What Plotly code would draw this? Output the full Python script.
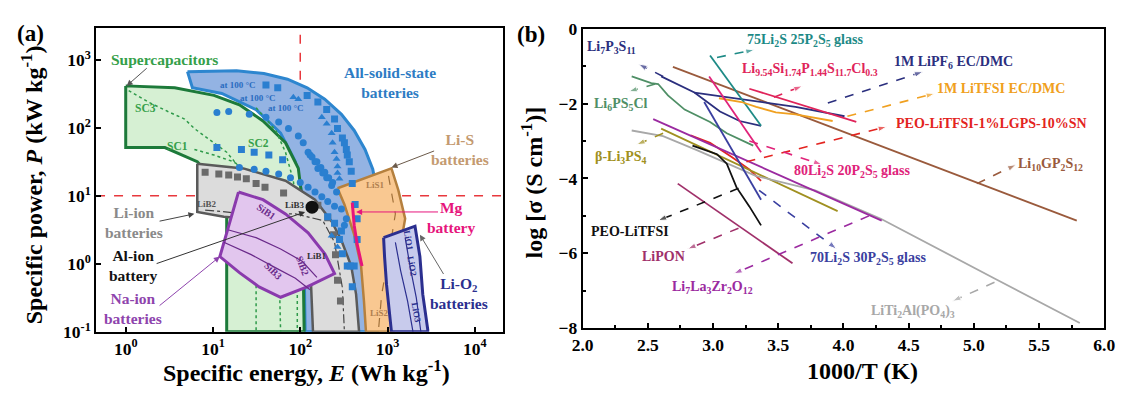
import numpy as np
import plotly.graph_objects as go

FONT = "Liberation Serif"
W, H = 1131, 394

# ---------------- panel (a): Ragone plot (outlines in log10 units) ----------------
guide_E = 100.0      # vertical dashed guide, Wh/kg
guide_P = 10.0       # horizontal dashed guide, kW/kg

assb_logE = [0.708, 1.270, 1.584, 1.854, 2.079, 2.281, 2.472, 2.618, 2.742, 2.831, 2.876, 2.899, 2.888,
             2.056, 2.034, 1.944, 1.775, 1.494, 1.101, 0.764]
assb_logP = [2.827, 2.841, 2.799, 2.716, 2.590, 2.423, 2.199, 1.962, 1.683, 1.391, 1.084, 0.665, -1.0,
             -1.0, 0.944, 1.502, 1.921, 2.269, 2.506, 2.590]

sc_logE = [0.0, 0.562, 1.011, 1.303, 1.573, 1.831, 1.978, 2.022, 2.045, 1.157, 1.157, 1.067, 0.820, 0.449, 0.0]
sc_logP = [2.618, 2.590, 2.478, 2.339, 2.102, 1.781, 1.404, 0.944, -1.0, -1.0, 0.735, 1.153, 1.502, 1.711, 1.711]

sc_sub1_logE = [0.034, 0.258, 0.483, 0.674, 0.787, 0.966, 1.157, 1.382, 1.494, 1.494]
sc_sub1_logP = [2.548, 2.381, 2.241, 2.130, 1.990, 1.823, 1.642, 1.293, 0.805, -1.0]
sc_sub2_logE = [0.787, 1.011, 1.236, 1.551, 1.742, 1.775]
sc_sub2_logP = [1.683, 1.600, 1.502, 1.223, 0.735, -1.0]
sc_sub3_logE = [1.494, 1.719, 1.831, 1.921, 1.966, 1.966]
sc_sub3_logP = [2.297, 1.962, 1.642, 1.223, 0.665, -1.0]

lib_logE = [0.820, 1.348, 1.831, 2.169, 2.360, 2.472, 2.584, 2.640, 2.674,
            2.146, 2.124, 2.034, 1.719, 1.382, 1.124, 0.820]
lib_logP = [1.474, 1.404, 1.223, 0.944, 0.623, 0.344, -0.032, -0.450, -1.0,
            -1.0, -0.311, 0.177, 0.526, 0.665, 0.693, 0.763]
lib_sub_logE = [0.910, 1.382, 1.944, 2.258, 2.393, 2.483, 2.506]
lib_sub_logP = [0.791, 0.735, 0.735, 0.637, 0.317, -0.353, -1.0]

sib_logE = [1.292, 1.573, 1.831, 2.090, 2.281, 2.393, 2.079, 1.775, 1.528, 1.303, 1.079]
sib_logP = [1.056, 0.944, 0.735, 0.456, 0.149, -0.144, -0.339, -0.492, -0.339, -0.130, 0.107]
sib_sub1_logE = [1.180, 1.494, 1.775, 2.022, 2.191]
sib_sub1_logP = [0.498, 0.386, 0.219, 0.038, -0.199]
sib_sub2_logE = [1.124, 1.438, 1.719, 1.944, 2.112]
sib_sub2_logP = [0.317, 0.135, -0.060, -0.213, -0.381]

lis_logE = [2.427, 3.045, 3.124, 3.202, 3.146, 3.090, 3.067, 2.753, 2.730, 2.697, 2.618, 2.506]
lis_logP = [1.112, 1.404, 1.084, 0.665, 0.247, -0.311, -1.0, -1.0, -0.548, -0.032, 0.428, 0.874]
lis_sub_logE = [3.011, 3.090, 3.011, 2.933, 2.899]
lis_sub_logP = [1.293, 0.735, 0.107, -0.450, -0.939]

lio_logE = [2.955, 3.315, 3.371, 3.404, 3.461, 3.461, 3.045, 2.989, 2.966]
lio_logP = [0.386, 0.554, 0.107, -0.450, -0.967, -1.0, -1.0, -0.311, 0.107]
lio_sub1_logE = [3.090, 3.150, 3.230, 3.292]
lio_sub1_logP = [0.317, -0.100, -0.550, -1.0]
lio_sub2_logE = [3.202, 3.260, 3.330, 3.382]
lio_sub2_logP = [0.386, -0.050, -0.500, -1.0]

mg_logE = [2.596, 2.618, 2.652, 2.708]
mg_logP = [0.902, 0.568, 0.289, -0.032]

lib_pts_logE = [0.910, 1.067, 1.180, 1.281, 1.382, 1.494, 1.596, 1.809, 2.202, 2.315, 2.382, 2.404, 2.427, 2.461]
lib_pts_logP = [1.349, 1.321, 1.307, 1.279, 1.251, 1.181, 1.126, 1.042, 0.861, 0.679, 0.428, 0.135, -0.241, -0.548]
alion_logE = [2.135]
alion_logP = [0.833]

assb_circ_logE = [1.045, 1.180, 1.416, 1.607, 1.753, 1.865, 1.978, 2.034, 2.112, 2.169, 2.202, 2.258, 2.303, 2.360, 2.416,
                  1.303, 1.472, 1.607, 1.753, 1.888, 2.000, 2.090, 2.169, 2.247, 2.315, 2.393,
                  2.090, 2.135, 2.191, 2.236, 2.281, 2.326, 2.371, 2.472, 2.528, 2.506]
assb_circ_logP = [2.227, 2.241, 2.199, 2.158, 2.088, 1.990, 1.879, 1.781, 1.600, 1.502, 1.404, 1.335, 1.265, 1.153, 1.056,
                  1.418, 1.391, 1.363, 1.321, 1.265, 1.195, 1.126, 1.056, 0.986, 0.916, 0.847,
                  1.642, 1.572, 1.502, 1.418, 1.349, 1.265, 1.195, 0.805, 0.665, 0.568]
assb_sq_logE = [1.607, 1.742, 2.079, 2.202, 2.303, 2.393, 2.427, 2.483, 2.506, 2.528, 2.539, 2.562, 2.584, 2.596,
                1.045, 1.326, 1.472, 1.640, 1.798,
                2.315, 2.393, 2.472, 2.449, 2.483, 2.539, 2.596, 2.629, 2.652, 2.652, 2.618, 2.573]
assb_sq_logP = [2.632, 2.590, 2.478, 2.381, 2.269, 2.130, 1.990, 1.851, 1.781, 1.683, 1.600, 1.502, 1.363, 1.181,
                1.711, 1.683, 1.642, 1.600, 1.530,
                0.693, 0.596, 0.484, 0.358, 0.149, -0.032, -0.339, 0.874, 0.665, 0.358, -0.032, -0.032]
assb_tri_logE = [1.921, 1.978, 2.247, 2.303, 2.360, 2.371, 2.393, 2.416, 2.427, 2.427, 2.449, 2.360, 2.427]
assb_tri_logP = [2.450, 2.423, 2.158, 2.060, 1.921, 1.781, 1.642, 1.544, 1.432, 1.335, 1.251, 0.414, 0.247]

# ---------------- panel (b): ionic conductivity vs 1000/T ----------------
curves = {
    "li10gps":  ([2.692, 5.789], [-1.015, -5.127], "#9a5a3c"),
    "li7p3s11": ([2.602, 2.857, 3.053, 3.203, 3.368], [-1.269, -1.701, -2.208, -2.462, -2.589], "#2b2f7e"),
    "lipf6":    ([2.857, 3.256, 3.632, 4.008], [-1.701, -1.904, -2.081, -2.335], "#2b2f7e"),
    "glass75":  ([2.977, 3.368], [-0.711, -2.589], "#1d8a86"),
    "lisipscl": ([3.278, 4.098], [-1.599, -2.487], "#e0245a"),
    "litfsi":   ([3.045, 3.218, 3.331, 3.481, 3.632, 3.782, 3.917],
                 [-1.853, -1.954, -2.081, -2.234, -2.284, -2.386, -2.462], "#f0a020"),
    "peo_lgps": ([2.827, 2.977, 3.143, 3.278, 3.368], [-2.843, -3.046, -3.426, -3.756, -4.061], "#e32420"),
    "li6ps5cl": ([2.376, 2.526, 2.579, 2.654, 2.782, 2.977, 3.105, 3.308],
                 [-1.269, -1.447, -1.472, -1.777, -2.157, -2.487, -2.792, -3.122], "#4f8f66"),
    "b_li3ps4": ([2.602, 3.955], [-2.665, -4.873], "#a09020"),
    "latp":     ([2.376, 2.617, 2.880, 3.331, 3.782, 4.286, 5.158, 5.812],
                 [-2.716, -2.868, -3.249, -3.934, -4.315, -5.076, -6.675, -7.868], "#a8a8a8"),
    "llzo":     ([2.541, 4.293], [-2.411, -5.127], "#9b2aa0"),
    "glass80":  ([2.970, 3.368], [-1.269, -3.299], "#e0237a"),
    "glass70":  ([2.932, 3.368], [-1.954, -4.569], "#3a3fa0"),
    "peo":      ([2.842, 3.030, 3.105, 3.180, 3.278, 3.368], [-3.122, -3.350, -3.604, -4.239, -4.746, -5.254], "#111111"),
    "lipon":    ([2.729, 3.609], [-4.137, -6.269], "#a0306a"),
}

# leader arrows: (start x, start y, head x, head y, curve key)
leaders = [
    (5.023, -4.137, 5.323, -3.629, "li10gps"),
    (2.617, -1.269, 2.429, -0.939, "li7p3s11"),
    (3.880, -1.980, 4.609, -1.142, "lipf6"),
    (3.030, -0.761, 3.316, -0.558, "glass75"),
    (3.466, -1.827, 3.684, -1.523, "lisipscl"),
    (4.030, -2.335, 4.699, -1.726, "litfsi"),
    (3.256, -3.553, 4.331, -2.614, "peo_lgps"),
    (2.556, -1.472, 2.353, -1.675, "li6ps5cl"),
    (2.617, -2.792, 2.414, -3.096, "b_li3ps4"),
    (5.158, -6.777, 4.835, -7.284, "latp"),
    (4.195, -5.000, 3.158, -6.548, "llzo"),
    (3.278, -2.995, 3.835, -3.629, "glass80"),
    (3.353, -4.315, 3.947, -5.888, "glass70"),
    (3.195, -4.264, 2.579, -5.127, "peo"),
    (3.195, -5.330, 2.805, -5.888, "lipon"),
]

labels_b = [
    ("Li<sub>7</sub>P<sub>3</sub>S<sub>11</sub>", 2.218, -0.508, "li7p3s11"),
    ("75Li<sub>2</sub>S 25P<sub>2</sub>S<sub>5</sub> glass", 3.707, -0.305, "glass75"),
    ("1M LiPF<sub>6</sub> EC/DMC", 4.842, -0.888, "lipf6"),
    ("Li<sub>9.54</sub>Si<sub>1.74</sub>P<sub>1.44</sub>S<sub>11.7</sub>Cl<sub>0.3</sub>", 3.744, -1.091, "lisipscl"),
    ("1M LiTFSI EC/DMC", 5.211, -1.599, "litfsi"),
    ("PEO-LiTFSI-1%LGPS-10%SN", 5.135, -2.538, "peo_lgps"),
    ("Li<sub>6</sub>PS<sub>5</sub>Cl", 2.293, -2.030, "li6ps5cl"),
    ("β-Li<sub>3</sub>PS<sub>4</sub>", 2.293, -3.426, "b_li3ps4"),
    ("80Li<sub>2</sub>S 20P<sub>2</sub>S<sub>5</sub> glass", 4.068, -3.807, "glass80"),
    ("Li<sub>10</sub>GP<sub>2</sub>S<sub>12</sub>", 5.586, -3.629, "li10gps"),
    ("PEO-LiTFSI", 2.361, -5.406, "peo"),
    ("LiPON", 2.617, -6.091, "lipon"),
    ("70Li<sub>2</sub>S 30P<sub>2</sub>S<sub>5</sub> glass", 4.188, -6.142, "glass70"),
    ("Li<sub>7</sub>La<sub>3</sub>Zr<sub>2</sub>O<sub>12</sub>", 2.992, -6.904, "llzo"),
    ("LiTi<sub>2</sub>Al(PO<sub>4</sub>)<sub>3</sub>", 4.534, -7.563, "latp"),
]

BLUE = "#2a7fd0"
fig = go.Figure()


def p10(v):
    return 10 ** np.asarray(v, dtype=float)


def add_a(x, y, **kw):
    fig.add_trace(go.Scatter(x=x, y=y, xaxis="x", yaxis="y", hoverinfo="skip", showlegend=False, **kw))


def region(lx, ly, fill, edge, width):
    add_a(p10(lx + lx[:1]), p10(ly + ly[:1]), mode="lines", fill="toself", fillcolor=fill,
          line=dict(color=edge, width=width))


def sub_line(lx, ly, color, dash, width=1.2):
    add_a(p10(lx), p10(ly), mode="lines", line=dict(color=color, width=width, dash=dash))


# dashed guides
add_a([guide_E, guide_E], [0.1, 10 ** 3.47], mode="lines", line=dict(color="#e8383d", width=1.5, dash="dash"))
add_a([10 ** -0.34, 10 ** 4.33], [guide_P, guide_P], mode="lines", line=dict(color="#e8383d", width=1.5, dash="dash"))

region(assb_logE, assb_logP, "#93b3e3", "#2d86cf", 3)
region(sc_logE, sc_logP, "#d6f0d3", "#1d7a3a", 3)
for lx, ly in [(sc_sub1_logE, sc_sub1_logP), (sc_sub2_logE, sc_sub2_logP), (sc_sub3_logE, sc_sub3_logP)]:
    sub_line(lx, ly, "#2f9a4a", "dot", 1.5)
region(lib_logE, lib_logP, "#dcdcdc", "#5a5a5a", 2.5)
sub_line(lib_sub_logE, lib_sub_logP, "#444444", "dashdot", 1.2)
region(sib_logE, sib_logP, "#e2c6ee", "#8a3aad", 3)
sub_line(sib_sub1_logE, sib_sub1_logP, "#6a2a8a", "solid", 1.2)
sub_line(sib_sub2_logE, sib_sub2_logP, "#6a2a8a", "solid", 1.2)
region(lis_logE, lis_logP, "#f9c891", "#b5803e", 2.5)
sub_line(lis_sub_logE, lis_sub_logP, "#a0703a", "dash", 1.2)
region(lio_logE, lio_logP, "#c8cbec", "#2b2f8f", 3)
sub_line(lio_sub1_logE, lio_sub1_logP, "#2b2f8f", "solid", 1.2)
sub_line(lio_sub2_logE, lio_sub2_logP, "#2b2f8f", "solid", 1.2)

add_a(p10(lib_pts_logE), p10(lib_pts_logP), mode="markers",
      marker=dict(symbol="square", size=7, color="#6b6b6b"))
add_a(p10(alion_logE), p10(alion_logP), mode="markers", marker=dict(symbol="circle", size=13, color="#111111"))
add_a(p10(assb_circ_logE), p10(assb_circ_logP), mode="markers", marker=dict(symbol="circle", size=7, color=BLUE))
add_a(p10(assb_sq_logE), p10(assb_sq_logP), mode="markers", marker=dict(symbol="square", size=7, color=BLUE))
add_a(p10(assb_tri_logE), p10(assb_tri_logP), mode="markers", marker=dict(symbol="triangle-up", size=7, color=BLUE))
add_a(p10(mg_logE), p10(mg_logP), mode="lines", line=dict(color="#e6157c", width=3))

# panel (b) curves
for key, (xs, ys, col) in curves.items():
    fig.add_trace(go.Scatter(x=xs, y=ys, xaxis="x2", yaxis="y2", mode="lines",
                             line=dict(color=col, width=1.8), hoverinfo="skip", showlegend=False))
for x0, y0, x1, y1, key in leaders:
    col = curves[key][2]
    fig.add_trace(go.Scatter(x=[x0, x1], y=[y0, y1], xaxis="x2", yaxis="y2", mode="lines+markers",
                             line=dict(color=col, width=1.6, dash="dash"),
                             marker=dict(symbol=["circle", "arrow"], size=[0, 9], angleref="previous", color=col),
                             hoverinfo="skip", showlegend=False))

ann = []


def txt(text, x, y, color, size, xref="x", yref="y", angle=0, bold=True):
    ann.append(dict(text=text, x=x, y=y, xref=xref, yref=yref, showarrow=False, textangle=angle,
                    font=dict(family=FONT, size=size, color=color, weight="bold" if bold else "normal"),
                    xanchor="center", yanchor="middle"))


def arrow(tx, ty, hx, hy, color, width=1.0):
    ann.append(dict(text="", x=hx, y=hy, ax=tx, ay=ty, xref="x", yref="y", axref="x", ayref="y",
                    showarrow=True, arrowhead=2, arrowsize=1.2, arrowwidth=width, arrowcolor=color))


# panel (a) labels
BIG = 15.5
txt("Supercapacitors", 0.449, 3.008, "#35a04a", BIG)
arrow(0.258, 2.897, 0.011, 2.618, "#555555")
txt("SC3", 0.225, 2.297, "#35a04a", 11.5)
txt("SC1", 0.596, 1.739, "#35a04a", 11.5)
txt("SC2", 1.517, 1.781, "#35a04a", 11.5)
for xx, yy in [(1.292, 2.632), (1.517, 2.437), (1.831, 2.297)]:
    txt("at 100 °C", xx, yy, "#2a6cc0", 9)
txt("All-solid-state<br>batteries", 3.034, 2.674, "#2d7cc4", BIG)
txt("Li-S<br>batteries", 3.831, 1.683, "#c49a70", BIG)
arrow(3.551, 1.669, 3.045, 1.418, "#6b5a4a")
txt("Mg<br>battery", 3.730, 0.679, "#e6157c", BIG)
arrow(3.596, 0.763, 2.640, 0.763, "#e6157c")
txt("Li-O<sub>2</sub><br>batteries", 3.820, -0.437, "#2b2f8f", BIG)
arrow(3.652, -0.172, 3.371, 0.428, "#666666")
txt("Li-ion<br>batteries", 0.090, 0.609, "#8a8a8a", BIG)
arrow(0.371, 0.623, 0.787, 0.735, "#444444")
txt("Al-ion<br>battery", 0.079, -0.032, "#111111", BIG)
arrow(0.337, -0.004, 2.056, 0.763, "#333333")
txt("Na-ion<br>batteries", 0.079, -0.660, "#8e44ad", BIG)
arrow(0.371, -0.632, 1.079, 0.107, "#8e44ad")
txt("LiB2", 0.933, 0.874, "#555555", 9)
txt("LiB3", 1.944, 0.861, "#333333", 9)
txt("LiB1", 2.191, 0.121, "#333333", 9)
txt("LiS1", 2.865, 1.167, "#b08050", 9)
txt("LiS2", 2.910, -0.729, "#b08050", 9)
txt("LiO1", 3.236, 0.344, "#2b2f8f", 9, angle=80)
txt("LiO2", 3.281, -0.032, "#2b2f8f", 9, angle=80)
txt("LiO3", 3.326, -0.729, "#2b2f8f", 9, angle=80)
txt("SiB1", 1.607, 0.763, "#6a2a8a", 10, angle=35)
txt("SiB3", 1.685, -0.102, "#6a2a8a", 10, angle=45)
txt("SiB2", 2.022, -0.032, "#6a2a8a", 10, angle=70)

# panel (b) labels
for text, xx, yy, key in labels_b:
    txt(text, xx, yy, curves[key][2], 14, xref="x2", yref="y2")

# panel letters and axis titles
txt("(a)", 20 / W, 1 - 25 / H, "black", 23, xref="paper", yref="paper")
txt("(b)", 530 / W, 1 - 26 / H, "black", 23, xref="paper", yref="paper")
txt("Specific power, <i>P</i> (kW kg<sup>-1</sup>)", 21 / W, 1 - 184 / H, "black", 24,
    xref="paper", yref="paper", angle=-90)
txt("Specific energy, <i>E</i> (Wh kg<sup>-1</sup>)", 301 / W, 1 - 380 / H, "black", 24,
    xref="paper", yref="paper")
txt("log [σ (S cm<sup>-1</sup>)]", 531 / W, 1 - 182 / H, "black", 24,
    xref="paper", yref="paper", angle=-90)
txt("1000/T (K)", 868 / W, 1 - 380 / H, "black", 24, xref="paper", yref="paper")

tickfont = dict(family=FONT, size=17.5, color="black", weight="bold")
frame = dict(showline=True, linecolor="black", linewidth=2, mirror=True, ticks="inside", ticklen=5,
             tickwidth=1.5, tickcolor="black", showgrid=False, zeroline=False, tickfont=tickfont)

fig.update_layout(
    width=W, height=H, margin=dict(l=0, r=0, t=0, b=0),
    paper_bgcolor="white", plot_bgcolor="white", showlegend=False,
    annotations=ann,
    xaxis=dict(type="log", range=[-0.337, 4.326], domain=[87 / W, 502 / W], anchor="y",
               tickvals=[1, 10, 100, 1000, 10000],
               ticktext=["10<sup>0</sup>", "10<sup>1</sup>", "10<sup>2</sup>", "10<sup>3</sup>", "10<sup>4</sup>"],
               **frame),
    yaxis=dict(type="log", range=[-1.0, 3.469], domain=[1 - 339 / H, 1 - 19 / H], anchor="x",
               tickvals=[0.1, 1, 10, 100, 1000],
               ticktext=["10<sup>-1</sup>", "10<sup>0</sup>", "10<sup>1</sup>", "10<sup>2</sup>", "10<sup>3</sup>"],
               **frame),
    xaxis2=dict(range=[2, 6], domain=[583 / W, 1115 / W], anchor="y2", dtick=0.5, tickformat=".1f",
                minor=dict(ticks="inside", dtick=0.25, ticklen=3, tickcolor="black"), **frame),
    yaxis2=dict(range=[-8, 0], domain=[1 - 335 / H, 1 - 20 / H], anchor="x2", dtick=2,
                minor=dict(ticks="inside", dtick=1, ticklen=3, tickcolor="black"), **frame),
)

fig.write_html("out.html")
